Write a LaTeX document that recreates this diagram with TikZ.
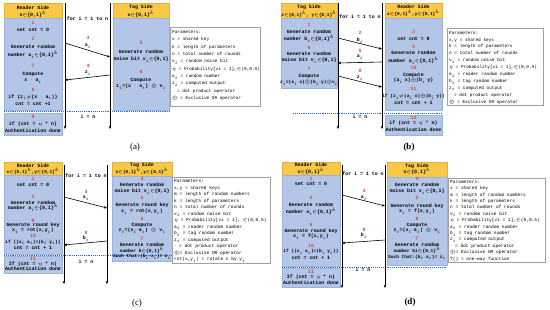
\documentclass[tikz,border=0pt]{standalone}
\usepackage{fontspec}
\setmainfont{Liberation Serif}
\newfontfamily\monof{Liberation Mono}
\usetikzlibrary{arrows.meta}
\definecolor{hdrc}{HTML}{F9C846}
\definecolor{bodyc}{HTML}{B4C6E7}
\definecolor{edgec}{HTML}{9AB2DC}
\definecolor{hedgec}{HTML}{E0B040}
\definecolor{numc}{HTML}{D9452E}
\definecolor{dotc}{HTML}{2F63C7}
\definecolor{parc}{HTML}{A0A0A0}
\newcounter{tn}
\newcommand\myin{\ensuremath{\in}}
\newcommand\myxor{\ensuremath{\oplus}}
\newcommand\myne{\ensuremath{\neq}}
\newcommand\mydot{\ensuremath{\cdot}}
\newcommand\ssub[1]{\ensuremath{_{#1}}}
\newcommand\ssup[1]{\ensuremath{^{#1}}}
\newcommand\txtl[3]{\stepcounter{tn}\node[tx] (t\arabic{tn}) at (#1,#2) {#3};}
\newcommand\txts[3]{\stepcounter{tn}\node[txs] (t\arabic{tn}) at (#1,#2) {#3};}
\newcommand\numl[3]{\stepcounter{tn}\node[tx,text=numc] (t\arabic{tn}) at (#1,#2) {#3};}
\newcommand\hdrl[3]{\stepcounter{tn}\node[hx] (t\arabic{tn}) at (#1,#2) {#3};}
\newcommand\hdrs[3]{\stepcounter{tn}\node[hxs] (t\arabic{tn}) at (#1,#2) {#3};}
% name, x1, y1, x2, y2, style
\newcommand\boxat[6]{\node[#6, minimum width={#4-#2}, minimum height={#5-#3}, anchor=north west] (#1) at (#2,#3) {};}
\begin{document}
\begin{tikzpicture}[x=1pt,y=-1pt,
  tx/.style={font=\monof\bfseries\fontsize{4.9}{5.5}\selectfont, inner sep=0pt},
  txs/.style={font=\monof\bfseries\fontsize{4.5}{5.5}\selectfont, inner sep=0pt},
  hx/.style={font=\monof\bfseries\fontsize{4.9}{5.5}\selectfont, inner sep=0pt},
  hxs/.style={font=\monof\bfseries\fontsize{4.4}{5.5}\selectfont, inner sep=0pt},
  bx/.style={rectangle, inner sep=0pt, outer sep=0pt},
  hdrbox/.style={bx, fill=hdrc, draw=hedgec, line width=0.3pt},
  bodybox/.style={bx, fill=bodyc, draw=edgec, line width=0.3pt},
  parbox/.style={bx, fill=white, draw=parc, line width=0.5pt},
  partext/.style={inner sep=0pt, anchor=north west, align=left},
  life/.style={line width=0.8pt, -{Stealth[length=3.2pt,width=2.6pt]}},
  msg/.style={line width=0.6pt, -{Stealth[length=3.2pt,width=2.6pt]}},
  sep/.style={dotc, line width=0.9pt, dash pattern=on 0.8pt off 1.1pt},
  capn/.style={font=\fontsize{9}{10}\selectfont, inner sep=0pt},
  capb/.style={font=\bfseries\fontsize{9}{10}\selectfont, inner sep=0pt}
]
\fill[white] (0,0) rectangle (550,309);
\useasboundingbox (0,0) rectangle (550,309);

%%%%%%%%%%%%%%%% PANEL (a) %%%%%%%%%%%%%%%%
\boxat{aRh}{4}{3}{62}{18}{hdrbox}
\boxat{aRb}{4}{18}{62}{110}{bodybox}
\boxat{aRl}{4}{113}{62}{135}{bodybox}
\boxat{aTh}{113}{3}{169}{18}{hdrbox}
\boxat{aTb}{113}{18}{169}{110}{bodybox}
\coordinate (aD1) at (4,111.5); \coordinate (aD2) at (170,111.5);
\draw[sep] (aD1) -- (aD2);
\coordinate (aL1t) at (65,3); \coordinate (aL1b) at (65,129);
\coordinate (aL2t) at (110,3); \coordinate (aL2b) at (110,129);
\draw[life] (aL1t) -- (aL1b);
\draw[life] (aL2t) -- (aL2b);
\hdrl{33}{7.5}{Reader Side}
\hdrl{33}{14}{x\myin\{0,1\}\ssup{k}}
\numl{33}{23}{1}
\txtl{33}{30}{set cnt = 0}
\numl{33}{39}{2}
\txtl{33}{47}{Generate random}
\txtl{33}{55}{number a\ssub{i}\myin\{0,1\}\ssup{k}}
\numl{33}{66}{7}
\txtl{33}{74}{Compute}
\txtl{33}{81}{x \mydot{} a\ssub{i}}
\numl{33}{90}{8}
\txtl{33}{97}{if (z\ssub{i}\myne(x \mydot{} a\ssub{i}))}
\txtl{33}{104}{cnt = cnt +1}
\numl{33}{117}{9}
\txtl{33}{124}{if (cnt = \ensuremath{\eta} * n)}
\txtl{33}{131}{Authentication done}
\txtl{87.5}{19}{for i = 1 to n}
\coordinate (aM3s) at (65,43); \coordinate (aM3e) at (110,57);
\draw[msg] (aM3s) -- (aM3e);
\numl{88}{38}{3}
\txtl{88}{46}{a\ssub{i}}
\coordinate (aM4s) at (110,75); \coordinate (aM4e) at (65,80);
\draw[msg] (aM4s) -- (aM4e);
\numl{88}{66}{4}
\txtl{88}{73}{z\ssub{i}}
\txtl{88}{117}{i = n}
\hdrl{141}{7.5}{Tag Side}
\hdrl{141}{14}{x\myin\{0,1\}\ssup{k}}
\numl{141}{43}{5}
\txtl{141}{52}{Generate random}
\txtl{141}{60}{noise bit v\ssub{i}\myin\{0,1\}}
\numl{141}{72}{6}
\txtl{141}{80}{Compute}
\txtl{141}{87}{z\ssub{i}=(x \mydot{} a\ssub{i}) \myxor{} v\ssub{i}}
\boxat{aP}{170}{27}{260}{106}{parbox}
\node[partext, font=\monof\fontsize{4.4}{7.3}\selectfont] (aPt) at (172,30.5) {Parameters:\\
x = shared key\\
k = length of parameters\\
n = total number of rounds\\
v\ssub{i} = random noise bit\\
\ensuremath{\eta} = Probability[vi = 1],\myin(0,0.5)\\
a\ssub{i} = random number\\
z\ssub{i} = computed output\\
\mydot{} = dot product operator\\
\myxor{} = Exclusive OR operator};
\node[capn] (capA) at (135,147) {(a)};

%%%%%%%%%%%%%%%% PANEL (b) %%%%%%%%%%%%%%%%
\boxat{bTh}{281}{3}{337}{18}{hdrbox}
\boxat{bTb}{281}{18}{337}{88}{bodybox}
\boxat{bRh}{385}{3}{442}{18}{hdrbox}
\boxat{bRb}{385}{18}{442}{110}{bodybox}
\boxat{bRl}{385}{115}{442}{135}{bodybox}
\coordinate (bD1) at (293,113); \coordinate (bD2) at (442,113);
\draw[sep] (bD1) -- (bD2);
\coordinate (bL1t) at (338,3); \coordinate (bL1b) at (338,129);
\coordinate (bL2t) at (382,3); \coordinate (bL2b) at (382,129);
\draw[life] (bL1t) -- (bL1b);
\draw[life] (bL2t) -- (bL2b);
\hdrl{309}{7}{Tag Side}
\hdrs{309}{14}{x\myin\{0,1\}\ssup{k}, y\myin\{0,1\}\ssup{k}}
\numl{309}{25}{1}
\txtl{309}{32}{Generate random}
\txtl{309}{39}{number b\ssub{i}\myin\{0,1\}\ssup{k}}
\numl{309}{48}{6}
\txtl{309}{54}{Generate random}
\txtl{309}{61}{noise bit v\ssub{i}\myin\{0,1\}}
\numl{309}{69}{7}
\txtl{309}{76}{Compute}
\txts{309}{83}{z\ssub{i}=(a\ssub{i}\mydot{}x)\myxor(b\ssub{i}\mydot{}y)\myxor{}v\ssub{i}}
\txtl{360}{17}{for i = 1 to n}
\coordinate (bM2s) at (338,38); \coordinate (bM2e) at (382,49);
\draw[msg] (bM2s) -- (bM2e);
\numl{360}{33}{2}
\txtl{360}{41}{b\ssub{i}}
\coordinate (bM5s) at (382,62); \coordinate (bM5e) at (338,63);
\draw[msg] (bM5s) -- (bM5e);
\numl{360}{51}{5}
\txtl{360}{57}{a\ssub{i}}
\coordinate (bM8s) at (338,76); \coordinate (bM8e) at (382,87);
\draw[msg] (bM8s) -- (bM8e);
\numl{360}{71}{8}
\txtl{360}{78}{z\ssub{i}}
\txtl{360}{117}{i = n}
\hdrl{413.5}{7}{Reader Side}
\hdrs{413.5}{13.5}{x\myin\{0,1\}\ssup{k},y\myin\{0,1\}\ssup{k}}
\numl{413.5}{32}{3}
\txtl{413.5}{39}{set cnt = 0}
\numl{413.5}{47}{4}
\txtl{413.5}{53}{Generate random}
\txtl{413.5}{61}{number a\ssub{i}\myin\{0,1\}\ssup{k}}
\numl{413.5}{68}{10}
\txtl{413.5}{75}{Compute}
\txtl{413.5}{81}{(a\ssub{i}\mydot{}x)\myxor(b\ssub{i}\mydot{}y)}
\numl{413.5}{89}{11}
\txts{413.5}{96.5}{if (z\ssub{i}\myne(a\ssub{i}\mydot{}x)\myxor(b\ssub{i}\mydot{}y))}
\txtl{413.5}{102.5}{cnt = cnt + 1}
\numl{413.5}{117.5}{12}
\txtl{413.5}{123.5}{if (cnt = \ensuremath{\eta} * n)}
\txtl{413.5}{130}{Authentication done}
\boxat{bP}{447}{28}{543}{105}{parbox}
\node[partext, font=\monof\fontsize{4.4}{6.9}\selectfont] (bPt) at (449,31) {Parameters:\\
x,y = shared keys\\
k = length of parameters\\
n = total number of rounds\\
v\ssub{i} = random noise bit\\
\ensuremath{\eta} = Probability[vi = 1],\myin(0,0.5)\\
a\ssub{i} = reader random number\\
b\ssub{i} = tag random number\\
z\ssub{i} = computed output\\
\mydot{} = dot product operator\\
\myxor{} = Exclusive OR operator};
\node[capb] (capB) at (409,147) {(b)};

%%%%%%%%%%%%%%%% PANEL (c) %%%%%%%%%%%%%%%%
\boxat{cRh}{4}{162}{62}{175}{hdrbox}
\boxat{cRb}{4}{175}{62}{254}{bodybox}
\boxat{cRl}{4}{256}{62}{273}{bodybox}
\boxat{cTh}{112}{162}{172}{176}{hdrbox}
\boxat{cTb}{112}{176}{172}{261}{bodybox}
\coordinate (cD1) at (4,255); \coordinate (cD2) at (172,255);
\draw[sep] (cD1) -- (cD2);
\coordinate (cL1t) at (64,165); \coordinate (cL1b) at (64,284);
\coordinate (cL2t) at (107,165); \coordinate (cL2b) at (107,284);
\draw[life] (cL1t) -- (cL1b);
\draw[life] (cL2t) -- (cL2b);
\hdrl{33}{165.5}{Reader Side}
\hdrs{33}{171}{x\myin\{0,1\}\ssup{k},y\myin\{0,1\}\ssup{k}}
\numl{33}{179}{1}
\txtl{33}{184.5}{set cnt = 0}
\numl{33}{196.5}{2}
\txtl{33}{202.5}{Generate random}
\txtl{33}{208}{number a\ssub{i}\myin\{0,1\}\ssup{k}}
\numl{33}{220.5}{9}
\txtl{33}{225.5}{Generate round key}
\txtl{33}{230.5}{x\ssub{i} = rot(x,y\ssub{i})}
\numl{33}{236}{10}
\txts{33}{242.5}{if ((x\ssub{i}\mydot{}a\ssub{i})=(b\ssub{i}\mydot{}y\ssub{i}))}
\txtl{33}{248}{cnt = cnt + 1}
\numl{33}{259}{11}
\txtl{33}{264}{If (cnt = \ensuremath{\eta} * n)}
\txtl{33}{269}{Authentication done}
\txtl{86}{176}{for i = 1 to n}
\coordinate (cM3s) at (64,197); \coordinate (cM3e) at (107,208);
\draw[msg] (cM3s) -- (cM3e);
\numl{86}{192}{3}
\txtl{86}{198}{a\ssub{i}}
\coordinate (cM8s) at (107,241); \coordinate (cM8e) at (64,245);
\draw[msg] (cM8s) -- (cM8e);
\numl{86}{233}{8}
\txtl{86}{239}{b\ssub{i}}
\txtl{86}{262}{i = n}
\hdrl{142}{165.5}{Tag Side}
\hdrs{142}{171}{x\myin\{0,1\}\ssup{k},y\myin\{0,1\}\ssup{k}}
\numl{142}{179}{4}
\txtl{142}{185}{Generate random}
\txtl{142}{191.5}{noise bit v\ssub{i}\myin\{0,1\}}
\numl{142}{198}{5}
\txtl{142}{205.5}{Generate round key}
\txtl{142}{211.5}{x\ssub{i} = rot(x,y\ssub{i})}
\numl{142}{219}{6}
\txtl{142}{225}{Compute}
\txtl{142}{231}{z\ssub{i}=(x\ssub{i}\mydot{}a\ssub{i}) \myxor{} v\ssub{i}}
\numl{142}{239}{7}
\txtl{142}{244.5}{Generate random}
\txts{142}{250.5}{number b\myin\{0,1\}\ssup{k}}
\txts{142}{257}{Such that:(b\ssub{i}\mydot{}x\ssub{i})= z\ssub{i}}
\boxat{cP}{172}{177}{270}{263}{parbox}
\node[partext, font=\monof\fontsize{4.5}{6.5}\selectfont] (cPt) at (174,179.5) {Parameters:\\
x,y = shared keys\\
m = length of random numbers\\
k = length of parameters\\
n = total number of rounds\\
v\ssub{i} = random noise bit\\
\ensuremath{\eta} = Probability[vi = 1], \myin(0,0.5)\\
a\ssub{i} = reader random number\\
b\ssub{i} = tag random number\\
z\ssub{i} = computed output\\
\mydot{} = dot product operator\\
\myxor= Exclusive OR operator\\
rot(x,y\ssub{i}) = rotate x by y\ssub{i}};
\node[capn] (capC) at (137,303) {(c)};

%%%%%%%%%%%%%%%% PANEL (d) %%%%%%%%%%%%%%%%
\boxat{dRh}{282}{162}{340}{175}{hdrbox}
\boxat{dRb}{282}{175}{340}{266}{bodybox}
\boxat{dRl}{282}{268}{340}{287}{bodybox}
\boxat{dTh}{387}{162}{447}{177}{hdrbox}
\boxat{dTb}{387}{177}{447}{265}{bodybox}
\coordinate (dD1) at (282,267); \coordinate (dD2) at (447,267);
\draw[sep] (dD1) -- (dD2);
\coordinate (dL1t) at (342,165); \coordinate (dL1b) at (342,288);
\coordinate (dL2t) at (385,165); \coordinate (dL2b) at (385,288);
\draw[life] (dL1t) -- (dL1b);
\draw[life] (dL2t) -- (dL2b);
\hdrl{311}{165}{Reader Side}
\hdrl{311}{171}{x\myin\{0,1\}\ssup{k}}
\numl{311}{179}{1}
\txtl{311}{184}{set cnt = 0}
\numl{311}{198}{2}
\txtl{311}{205}{Generate random}
\txtl{311}{211.5}{number a\ssub{i}\myin\{0,1\}\ssup{k}}
\numl{311}{225}{9}
\txtl{311}{231}{Generate round key}
\txtl{311}{236.5}{x\ssub{i} = f(x,y\ssub{i})}
\numl{311}{245.5}{10}
\txts{311}{252}{if ((x\ssub{i}\mydot{}a\ssub{i})=(b\ssub{i}\mydot{}y\ssub{i}))}
\txtl{311}{258}{cnt = cnt + 1}
\numl{311}{271.5}{11}
\txtl{311}{277}{If (cnt = \ensuremath{\eta} * n)}
\txtl{311}{283}{Authentication done}
\txtl{363}{174}{for i = 1 to n}
\coordinate (dM3s) at (342,195); \coordinate (dM3e) at (385,206);
\draw[msg] (dM3s) -- (dM3e);
\numl{364}{191}{3}
\txtl{364}{198}{a\ssub{i}}
\coordinate (dM8s) at (385,240); \coordinate (dM8e) at (342,243);
\draw[msg] (dM8s) -- (dM8e);
\numl{364}{230}{8}
\txtl{364}{236}{b\ssub{i}}
\txtl{363}{270}{i = n}
\hdrl{417}{166}{Tag Side}
\hdrl{417}{171.5}{x\myin\{0,1\}\ssup{k}}
\numl{417}{179}{4}
\txtl{417}{185}{Generate random}
\txtl{417}{192}{noise bit v\ssub{i}\myin\{0,1\}}
\numl{417}{198}{5}
\txtl{417}{206}{Generate round key}
\txtl{417}{211.5}{x\ssub{i} = f(x,y\ssub{i})}
\numl{417}{219}{6}
\txtl{417}{225}{Compute}
\txtl{417}{231}{z\ssub{i}=(x\ssub{i}\mydot{}a\ssub{i}) \myxor{} v\ssub{i}}
\numl{417}{239}{7}
\txtl{417}{244.5}{Generate random}
\txts{417}{250.5}{number bi\myin\{0,1\}\ssup{k}}
\txts{417}{257.5}{Such that:(b\ssub{i}\mydot{}x\ssub{i})= z\ssub{i}}
\boxat{dP}{448}{178}{545}{262}{parbox}
\node[partext, font=\monof\fontsize{4.5}{6.4}\selectfont] (dPt) at (450,180) {Parameters:\\
x = shared key\\
m = length of random numbers\\
k = length of parameters\\
n = total number of rounds\\
v\ssub{i} = random noise bit\\
\ensuremath{\eta} = Probability[vi = 1],\myin(0,0.5)\\
a\ssub{i} = reader random number\\
b\ssub{i} = tag random number\\
z\ssub{i} = computed output\\
\mydot{} = dot product operator\\
\myxor= Exclusive OR operator\\
f() = one-way function};
\node[capb] (capD) at (410,302) {(d)};
\end{tikzpicture}
\end{document}
